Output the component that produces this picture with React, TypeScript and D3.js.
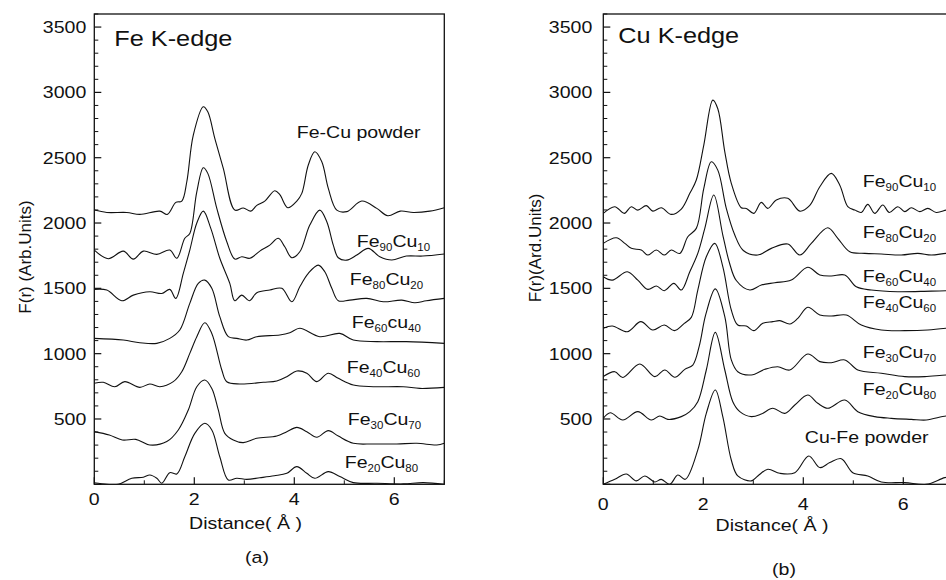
import React from 'react';
import * as d3 from 'd3';

// tick values
const xMajorTicks = [0, 2, 4, 6];
const xMinorTicks = [1, 3, 5, 7];
const yMajorTicks = [0, 500, 1000, 1500, 2000, 2500, 3000, 3500];
const yMinorTicks = d3.range(0, 3601, 100).filter((v) => v % 500 !== 0);

// Fe K-edge, [distance, F(r)]
const feCuPowderFe = [[0,2099],[0.25,2081],[0.65,2081],[0.91,2066],[1.31,2091],[1.46,2066],[1.63,2158],[1.75,2168],[1.85,2316],[1.98,2673],[2.18,2890],[2.27,2851],[2.41,2648],[2.58,2418],[2.81,2099],[2.98,2115],[3.13,2091],[3.25,2135],[3.41,2168],[3.61,2247],[3.71,2217],[3.87,2117],[4.05,2168],[4.15,2227],[4.28,2444],[4.41,2545],[4.55,2469],[4.68,2265],[4.85,2099],[5.05,2087],[5.35,2168],[5.65,2112],[5.87,2056],[6.12,2091],[6.38,2081],[6.71,2091],[7,2117]];
const fe90Cu10Fe = [[0,1793],[0.28,1727],[0.58,1785],[0.78,1724],[0.98,1785],[1.25,1760],[1.51,1793],[1.65,1730],[1.81,1883],[1.91,1920],[2.05,2239],[2.18,2423],[2.27,2380],[2.45,2112],[2.65,1857],[2.81,1724],[2.95,1742],[3.11,1730],[3.31,1785],[3.51,1831],[3.68,1883],[3.81,1818],[3.95,1734],[4.11,1780],[4.31,1984],[4.51,2099],[4.65,2010],[4.78,1831],[4.88,1734],[5.05,1716],[5.25,1755],[5.48,1806],[5.71,1742],[5.95,1717],[6.24,1747],[6.57,1747],[7,1763]];
const fe80Cu20Fe = [[0,1492],[0.25,1487],[0.55,1405],[0.78,1448],[1.11,1474],[1.35,1461],[1.51,1492],[1.63,1423],[1.78,1615],[1.91,1793],[2.05,2000],[2.18,2091],[2.33,1959],[2.51,1730],[2.71,1538],[2.81,1405],[2.95,1448],[3.1,1405],[3.25,1466],[3.51,1487],[3.75,1500],[3.95,1397],[4.11,1512],[4.28,1615],[4.48,1678],[4.61,1627],[4.75,1500],[4.88,1405],[5.11,1410],[5.45,1423],[5.78,1397],[6.15,1410],[6.41,1390],[6.64,1405],[7,1423]];
const fe60Cu40Fe = [[0,1117],[0.58,1104],[0.91,1084],[1.25,1079],[1.51,1117],[1.71,1181],[1.91,1385],[2.08,1538],[2.21,1563],[2.35,1500],[2.51,1283],[2.68,1130],[2.85,1117],[3.05,1104],[3.25,1130],[3.71,1143],[3.91,1160],[4.11,1194],[4.51,1130],[4.91,1155],[5.18,1104],[5.65,1092],[6.24,1092],[7,1079]];
const fe40Cu60Fe = [[0,773],[0.18,781],[0.41,747],[0.61,786],[0.91,742],[1.11,768],[1.31,747],[1.58,786],[1.75,862],[1.91,1002],[2.05,1130],[2.21,1237],[2.35,1155],[2.55,875],[2.65,785],[2.91,768],[3.38,781],[3.65,791],[3.85,824],[4.05,867],[4.25,850],[4.45,786],[4.68,850],[4.88,811],[5.18,760],[5.58,747],[6.18,747],[6.51,734],[7,742]];
const fe30Cu70Fe = [[0,403],[0.3,377],[0.56,339],[0.83,344],[1.11,301],[1.45,327],[1.68,416],[1.88,569],[2.05,747],[2.21,798],[2.35,734],[2.48,569],[2.61,390],[2.78,339],[2.98,319],[3.25,352],[3.65,369],[3.85,403],[4.05,436],[4.25,403],[4.45,360],[4.68,411],[4.88,369],[5.18,314],[5.58,309],[6.05,309],[6.45,314],[6.85,301],[7,314]];
const fe20Cu80Fe = [[0,12],[0.25,0],[0.48,0],[0.75,46],[0.98,54],[1.11,71],[1.25,46],[1.35,8],[1.51,89],[1.65,79],[1.81,211],[2.01,390],[2.21,467],[2.35,416],[2.51,211],[2.68,33],[2.85,46],[3.05,38],[3.31,50],[3.6,65],[3.85,84],[4.05,135],[4.25,84],[4.41,46],[4.68,97],[4.91,59],[5.18,13],[5.65,8],[6.18,3],[6.58,13],[7,0]];

// Cu K-edge
const fe90Cu10Cu = [[0,2074],[0.23,2125],[0.42,2074],[0.56,2125],[0.69,2099],[0.86,2133],[0.99,2091],[1.16,2117],[1.36,2066],[1.56,2107],[1.73,2227],[1.86,2329],[2.01,2597],[2.19,2941],[2.29,2875],[2.43,2545],[2.56,2304],[2.76,2117],[2.86,2112],[3.01,2074],[3.16,2158],[3.29,2112],[3.46,2176],[3.69,2189],[3.93,2091],[4.13,2135],[4.33,2278],[4.56,2380],[4.73,2290],[4.89,2125],[5.03,2099],[5.16,2081],[5.29,2143],[5.43,2074],[5.59,2138],[5.72,2081],[5.89,2125],[6.03,2087],[6.16,2117],[6.33,2087],[6.49,2112],[6.66,2081],[6.86,2099],[7,2110]];
const fe80Cu20Cu = [[0,1844],[0.26,1887],[0.43,1844],[0.56,1806],[0.76,1793],[0.89,1755],[1.06,1793],[1.22,1755],[1.36,1793],[1.53,1767],[1.69,1895],[1.86,1959],[2.01,2265],[2.16,2469],[2.29,2405],[2.46,2112],[2.63,1908],[2.8,1790],[3.09,1755],[3.36,1806],[3.69,1839],[3.93,1755],[4.16,1844],[4.49,1964],[4.69,1883],[4.93,1780],[5.23,1768],[5.56,1763],[5.96,1755],[6.29,1768],[6.56,1755],[6.86,1768],[7,1765]];
const fe60Cu40Cu = [[0,1589],[0.18,1563],[0.48,1627],[0.69,1563],[0.89,1492],[1.06,1518],[1.22,1482],[1.41,1538],[1.56,1487],[1.73,1627],[1.89,1768],[2.03,1959],[2.21,2214],[2.39,1908],[2.52,1700],[2.66,1560],[2.93,1487],[3.16,1525],[3.43,1543],[3.76,1563],[4.09,1661],[4.33,1602],[4.56,1594],[4.83,1602],[5.06,1512],[5.36,1487],[5.89,1474],[6.56,1479],[7,1482]];
const fe40Cu60Cu = [[0,1194],[0.18,1212],[0.48,1168],[0.75,1245],[0.99,1181],[1.22,1219],[1.42,1176],[1.62,1232],[1.76,1278],[1.89,1487],[2.06,1742],[2.23,1844],[2.39,1666],[2.56,1334],[2.69,1219],[2.86,1212],[3.01,1176],[3.19,1232],[3.39,1245],[3.53,1253],[3.73,1227],[3.89,1270],[4.09,1355],[4.33,1296],[4.56,1288],[4.86,1296],[5.16,1219],[5.56,1181],[6.03,1176],[6.49,1181],[7,1201]];
const fe30Cu70Cu = [[0,825],[0.23,862],[0.39,818],[0.73,921],[1.03,824],[1.23,875],[1.43,820],[1.63,880],[1.79,913],[1.92,1060],[2.05,1300],[2.24,1496],[2.43,1283],[2.56,952],[2.69,862],[2.96,837],[3.23,880],[3.49,900],[3.73,875],[4.09,997],[4.33,939],[4.56,931],[4.83,952],[5.09,875],[5.56,850],[6.03,824],[6.43,824],[6.86,837],[7,835]];
const fe20Cu80Cu = [[0,505],[0.14,548],[0.39,492],[0.69,556],[0.96,492],[1.13,523],[1.29,497],[1.56,518],[1.73,556],[1.89,632],[2.06,875],[2.24,1163],[2.43,875],[2.59,632],[2.73,556],[2.96,518],[3.16,538],[3.39,582],[3.63,543],[3.83,607],[4.09,683],[4.29,620],[4.49,582],[4.83,645],[5.09,556],[5.43,518],[5.76,505],[6.16,497],[6.46,492],[6.86,523],[7,520]];
const cuFePowderCu = [[0,0],[0.23,38],[0.46,79],[0.66,26],[0.83,64],[1.03,18],[1.16,38],[1.33,0],[1.49,71],[1.64,38],[1.89,263],[2.06,543],[2.24,722],[2.39,518],[2.56,186],[2.69,64],[2.96,26],[3.09,64],[3.29,115],[3.53,84],[3.83,89],[4.11,217],[4.33,128],[4.53,166],[4.76,196],[4.99,89],[5.29,64],[5.56,18],[6.03,13],[6.46,0],[6.83,51],[7,60]];

const FONT = '"Liberation Sans", Arial, Helvetica, sans-serif';
const SX = 1.15; // the text in the picture is a little wide

const xAt = d3.scaleLinear().domain([0, 7]).range([0, 350]);
const yAt = d3.scaleLinear().domain([0, 3600]).range([484.3, 14]);

function Wide({ x, y, size = 17, anchor = 'start', parts }) {
  return (
    <g transform={`translate(${x},${y}) scale(${SX},1)`}>
      <text x={0} y={0} fontSize={size} textAnchor={anchor} fontFamily={FONT} fill="#111">
        {parts.map((p, i) =>
          i % 2 === 0 ? (
            <tspan key={i} dy={i === 0 ? 0 : -4} fontSize={size}>{p}</tspan>
          ) : (
            <tspan key={i} dy={4} fontSize={10}>{p}</tspan>
          )
        )}
      </text>
    </g>
  );
}

function Panel({ id, x0, series, labels, title, yTitle, yTitleX, yTitleY, yGap, xLabelY, xTitleX, xTitleY, caption, captionX, captionY }) {
  const x = xAt.copy().range([x0, x0 + 350]);
  const y = yAt;
  const line = d3.line().x((d) => x(d[0])).y((d) => y(d[1])).curve(d3.curveCatmullRom.alpha(0.5));
  const [top, bottom] = [y(3600), y(0)];

  return (
    <g>
      <defs>
        <clipPath id={id}>
          <rect x={x0} y={top} width={350} height={bottom - top} />
        </clipPath>
      </defs>
      <g clipPath={`url(#${id})`}>
        {series.map((s, i) => (
          <path key={i} d={line(s)} fill="none" stroke="#111" strokeWidth={1.1} />
        ))}
      </g>
      <rect x={x0} y={top} width={350} height={bottom - top} fill="none" stroke="#111" strokeWidth={1.3} />
      {yMajorTicks.map((v) => (
        <line key={'ym' + v} x1={x0} x2={x0 + 7} y1={y(v)} y2={y(v)} stroke="#111" strokeWidth={1.2} />
      ))}
      {yMinorTicks.map((v) => (
        <line key={'yn' + v} x1={x0} x2={x0 + 4} y1={y(v)} y2={y(v)} stroke="#111" strokeWidth={1} />
      ))}
      {xMajorTicks.map((v) => (
        <line key={'xm' + v} x1={x(v)} x2={x(v)} y1={bottom} y2={bottom - 7} stroke="#111" strokeWidth={1.2} />
      ))}
      {xMinorTicks.map((v) => (
        <line key={'xn' + v} x1={x(v)} x2={x(v)} y1={bottom} y2={bottom - 4} stroke="#111" strokeWidth={1} />
      ))}
      {yMajorTicks.filter((v) => v > 0).map((v) => (
        <Wide key={'yl' + v} x={x0 - yGap} y={y(v) + 6} anchor="end" parts={[String(v)]} />
      ))}
      {xMajorTicks.map((v) => (
        <Wide key={'xl' + v} x={x(v)} y={xLabelY} anchor="middle" parts={[String(v)]} />
      ))}
      <Wide x={x(title.at[0])} y={y(title.at[1])} size={22} parts={[title.text]} />
      {labels.map((l, i) => (
        <Wide key={'lb' + i} x={x(l.at[0])} y={y(l.at[1])} parts={l.parts} />
      ))}
      <text transform={`translate(${yTitleX},${yTitleY}) rotate(-90)`} textAnchor="middle" fontSize={17} fontFamily={FONT} fill="#111">
        {yTitle}
      </text>
      <Wide x={xTitleX} y={xTitleY} anchor="middle" parts={['Distance( Å )']} />
      <Wide x={captionX} y={captionY} anchor="middle" parts={[caption]} />
    </g>
  );
}

export default function App() {
  return (
    <svg width={946} height={580} style={{ position: 'absolute', left: 0, top: 0, background: '#fff' }}>
      <rect width={946} height={580} fill="#fff" />
      <Panel
        id="clipA"
        x0={94.3}
        series={[feCuPowderFe, fe90Cu10Fe, fe80Cu20Fe, fe60Cu40Fe, fe40Cu60Fe, fe30Cu70Fe, fe20Cu80Fe]}
        title={{ text: 'Fe K-edge', at: [0.4, 3355] }}
        labels={[
          { parts: ['Fe-Cu powder'], at: [4.05, 2648] },
          { parts: ['Fe', '90', 'Cu', '10'], at: [5.25, 1816] },
          { parts: ['Fe', '80', 'Cu', '20'], at: [5.11, 1525] },
          { parts: ['Fe', '60', 'cu', '40'], at: [5.15, 1194] },
          { parts: ['Fe', '40', 'Cu', '60'], at: [5.05, 849] },
          { parts: ['Fe', '30', 'Cu', '70'], at: [5.07, 454] },
          { parts: ['Fe', '20', 'Cu', '80'], at: [5.01, 122] },
        ]}
        yTitle="F(r) (Arb.Units)"
        yTitleX={31}
        yTitleY={257}
        yGap={8}
        xLabelY={505}
        xTitleX={245.5}
        xTitleY={529}
        caption="(a)"
        captionX={257}
        captionY={563}
      />
      <Panel
        id="clipB"
        x0={603.3}
        series={[fe90Cu10Cu, fe80Cu20Cu, fe60Cu40Cu, fe40Cu60Cu, fe30Cu70Cu, fe20Cu80Cu, cuFePowderCu]}
        title={{ text: 'Cu K-edge', at: [0.3, 3375] }}
        labels={[
          { parts: ['Fe', '90', 'Cu', '10'], at: [5.19, 2278] },
          { parts: ['Fe', '80', 'Cu', '20'], at: [5.19, 1883] },
          { parts: ['Fe', '60', 'Cu', '40'], at: [5.19, 1551] },
          { parts: ['Fe', '40', 'Cu', '60'], at: [5.19, 1347] },
          { parts: ['Fe', '30', 'Cu', '70'], at: [5.19, 964] },
          { parts: ['Fe', '20', 'Cu', '80'], at: [5.19, 683] },
          { parts: ['Cu-Fe powder'], at: [4.03, 314] },
        ]}
        yTitle="F(r)(Ard.Units)"
        yTitleX={541}
        yTitleY={248}
        yGap={11}
        xLabelY={510}
        xTitleX={772}
        xTitleY={531}
        caption="(b)"
        captionX={784}
        captionY={575}
      />
    </svg>
  );
}
